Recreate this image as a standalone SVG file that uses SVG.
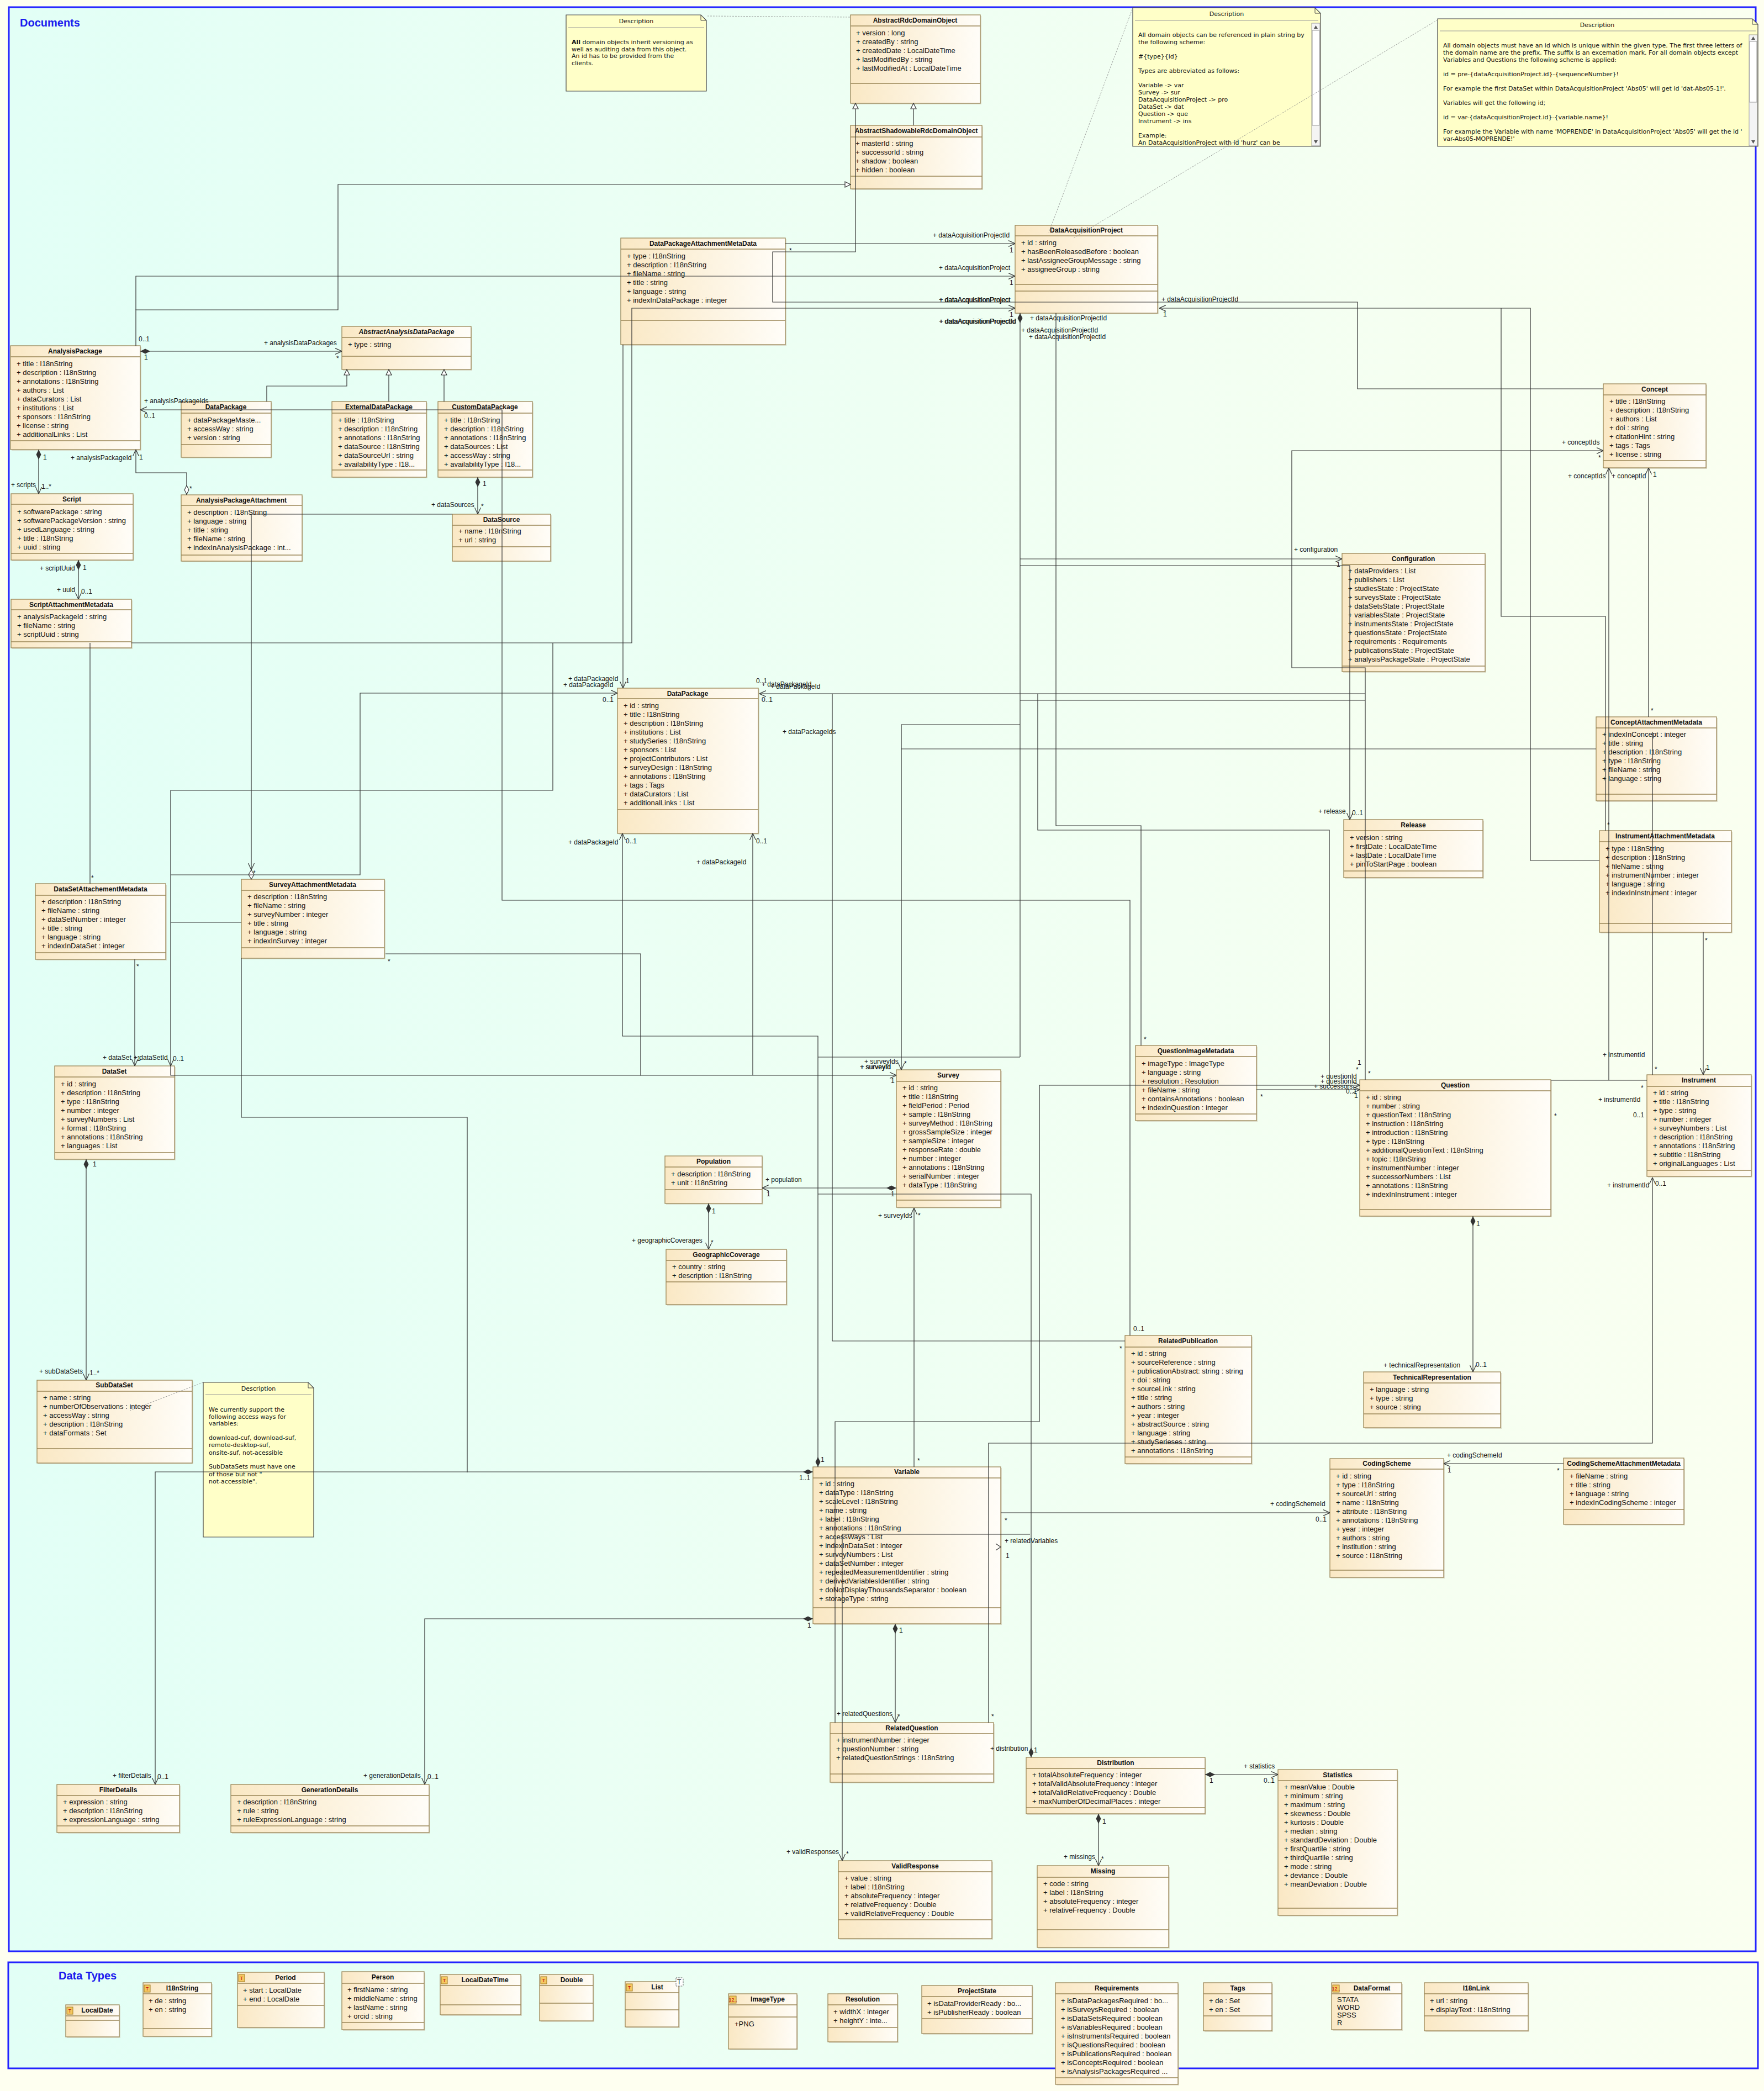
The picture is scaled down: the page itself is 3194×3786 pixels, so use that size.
<svg xmlns="http://www.w3.org/2000/svg" width="3194" height="3786" viewBox="0 0 3194 3786">
<defs>
<linearGradient id="fg" x1="0" y1="0" x2="1" y2="0"><stop offset="0" stop-color="#e2fff6"/><stop offset="1" stop-color="#fafff0"/></linearGradient>
<linearGradient id="ng" x1="0" y1="0" x2="1" y2="0"><stop offset="0" stop-color="#fae8c4"/><stop offset="1" stop-color="#fffdf8"/></linearGradient>
<marker id="ar" viewBox="0 0 12 12" refX="12" refY="6" markerWidth="12" markerHeight="12" orient="auto" markerUnits="userSpaceOnUse"><path d="M0,0.5 L12,6 L0,11.5" fill="none" stroke="#333" stroke-width="1.2"/></marker>
<marker id="gn" viewBox="0 0 12 12" refX="11" refY="6" markerWidth="12" markerHeight="12" orient="auto" markerUnits="userSpaceOnUse"><path d="M1,1 L11,6 L1,11 Z" fill="#fff" stroke="#333" stroke-width="1.2"/></marker>
<marker id="dm" viewBox="0 0 20 10" refX="0" refY="5" markerWidth="20" markerHeight="10" orient="auto" markerUnits="userSpaceOnUse"><path d="M0,5 L9,0.5 L18,5 L9,9.5 Z" fill="#333"/></marker>
<marker id="hd" viewBox="0 0 20 10" refX="0" refY="5" markerWidth="20" markerHeight="10" orient="auto" markerUnits="userSpaceOnUse"><path d="M1,5 L9,1 L17,5 L9,9 Z" fill="#fff" stroke="#333" stroke-width="1.1"/></marker>
</defs>
<style>
.nb{fill:url(#ng);stroke:#9a8656;stroke-width:1.3}
.sh{fill:#cfc7b0;opacity:.6}
.dv{stroke:#9a8656;stroke-width:1.3}
.t{font-family:"Liberation Sans",Arial,sans-serif;font-size:12px;font-weight:bold;text-anchor:middle;fill:#111}
.ti{font-style:italic}
.a{font-family:"Liberation Sans",Arial,sans-serif;font-size:13px;fill:#111}
.l{font-family:"Liberation Sans",Arial,sans-serif;font-size:12px;fill:#111}
.e{fill:none;stroke:#333;stroke-width:1.2}
.an{fill:none;stroke:#888;stroke-width:0.8;stroke-dasharray:3,2}
.note{fill:#ffffc8;stroke:#444;stroke-width:1.2}
.nd{stroke:#999;stroke-width:1}
.nt{font-family:"DejaVu Sans",sans-serif;font-size:11px;fill:#111}
.nh{font-family:"DejaVu Sans",sans-serif;font-size:11px;fill:#111;text-anchor:middle}
.fr{stroke:#2222ff;stroke-width:3;fill:url(#fg)}
.ft{font-family:"Liberation Sans",Arial,sans-serif;font-size:20px;font-weight:bold;fill:#1a1aee}
.ic{fill:#f5c860;stroke:#a07a20;stroke-width:1}
.it{font-family:"Liberation Sans",Arial,sans-serif;font-size:9px;fill:#c00000;text-anchor:middle}
.sb{fill:#f4f4f4;stroke:#888;stroke-width:0.8}
</style>
<rect width="3194" height="3786" fill="#fefff0"/>
<rect class="fr" x="16" y="13" width="3163" height="3520"/>
<text class="ft" x="36" y="48">Documents</text>
<rect class="fr" x="15" y="3553" width="3168" height="192"/>
<text class="ft" x="106" y="3584">Data Types</text>

<g id="notes">
<g id="note1"><path class="note" d="M1025,27 H1269 L1279,37 V165 H1025 Z"/><path d="M1269,27 V37 H1279" fill="none" stroke="#444"/><text class="nh" x="1152" y="42">Description</text><line class="nd" x1="1029" y1="50" x2="1275" y2="50"/>
<text class="nt" x="1035" y="80"><tspan font-weight="bold">All</tspan> domain objects inherit versioning as</text><text class="nt" x="1035" y="93">well as auditing data from this object.</text><text class="nt" x="1035" y="105">An id has to be provided from the</text><text class="nt" x="1035" y="118">clients.</text></g>
<g id="note2"><path class="note" d="M2051,14 H2381 L2391,24 V265 H2051 Z"/><path d="M2381,14 V24 H2391" fill="none" stroke="#444"/><text class="nh" x="2221" y="29">Description</text><line class="nd" x1="2055" y1="37" x2="2387" y2="37"/>
<rect class="sb" x="2375" y="42" width="15" height="222"/><rect x="2376" y="55" width="13" height="172" fill="#fff" stroke="#999"/><path d="M2379,52 L2382.5,46 L2386,52 Z M2379,254 L2382.5,260 L2386,254 Z" fill="#555"/>
<text class="nt" x="2061" y="67">All domain objects can be referenced in plain string by</text><text class="nt" x="2061" y="80">the following scheme:</text><text class="nt" x="2061" y="106">#{type}{id}</text><text class="nt" x="2061" y="132">Types are abbreviated as follows:</text><text class="nt" x="2061" y="158">Variable -&gt; var</text><text class="nt" x="2061" y="171">Survey -&gt; sur</text><text class="nt" x="2061" y="184">DataAcquisitionProject -&gt; pro</text><text class="nt" x="2061" y="197">DataSet -&gt; dat</text><text class="nt" x="2061" y="210">Question -&gt; que</text><text class="nt" x="2061" y="223">Instrument -&gt; ins</text><text class="nt" x="2061" y="249">Example:</text><text class="nt" x="2061" y="262">An DataAcquisitionProject with id 'hurz' can be</text></g>
<g id="note3"><path class="note" d="M2603,34 H3173 L3183,44 V265 H2603 Z"/><path d="M3173,34 V44 H3183" fill="none" stroke="#444"/><text class="nh" x="2892" y="49">Description</text><line class="nd" x1="2607" y1="56" x2="3179" y2="56"/>
<rect class="sb" x="3167" y="63" width="15" height="201"/><rect x="3168" y="75" width="13" height="110" fill="#fff" stroke="#999"/><path d="M3171,72 L3174.5,66 L3178,72 Z M3171,254 L3174.5,260 L3178,254 Z" fill="#555"/>
<text class="nt" x="2613" y="86">All domain objects must have an id which is unique within the given type. The first three letters of</text><text class="nt" x="2613" y="99">the domain name are the prefix. The suffix is an excemation mark. For all domain objects except</text><text class="nt" x="2613" y="112">Variables and Questions the following scheme is applied:</text><text class="nt" x="2613" y="138">id = pre-{dataAcquisitionProject.id}-{sequenceNumber}!</text><text class="nt" x="2613" y="164">For example the first DataSet within DataAcquisitionProject 'Abs05' will get id 'dat-Abs05-1!'.</text><text class="nt" x="2613" y="190">Variables will get the following id;</text><text class="nt" x="2613" y="216">id = var-{dataAcquisitionProject.id}-{variable.name}!</text><text class="nt" x="2613" y="242">For example the Variable with name 'MOPRENDE' in DataAcquisitionProject 'Abs05' will get the id '</text><text class="nt" x="2613" y="255">var-Abs05-MOPRENDE!'</text></g>
<g id="note4"><path class="note" d="M368,2503 H558 L568,2513 V2783 H368 Z"/><path d="M558,2503 V2513 H568" fill="none" stroke="#444"/><text class="nh" x="468" y="2518">Description</text><line class="nd" x1="372" y1="2525" x2="564" y2="2525"/>
<text class="nt" x="378" y="2556">We currently support the</text><text class="nt" x="378" y="2569">following access ways for</text><text class="nt" x="378" y="2581">variables:</text><text class="nt" x="378" y="2607">download-cuf, download-suf,</text><text class="nt" x="378" y="2620">remote-desktop-suf,</text><text class="nt" x="378" y="2634">onsite-suf, not-acessible</text><text class="nt" x="378" y="2659">SubDataSets must have one</text><text class="nt" x="378" y="2673">of those but not "</text><text class="nt" x="378" y="2686">not-accessible".</text></g>
</g>

<g id="nodes">
<g id="AnalysisPackage"><rect class="sh" x="21" y="628" width="235" height="188"/><rect class="nb" x="19" y="626" width="235" height="188"/><text class="t" x="136" y="640">AnalysisPackage</text><line class="dv" x1="19" y1="646" x2="254" y2="646"/><text class="a"><tspan x="30" y="663">+ title : I18nString</tspan><tspan x="30" y="679">+ description : I18nString</tspan><tspan x="30" y="695">+ annotations : I18nString</tspan><tspan x="30" y="711">+ authors : List</tspan><tspan x="30" y="727">+ dataCurators : List</tspan><tspan x="30" y="743">+ institutions : List</tspan><tspan x="30" y="759">+ sponsors : I18nString</tspan><tspan x="30" y="775">+ license : string</tspan><tspan x="30" y="791">+ additionalLinks : List</tspan></text><line class="dv" x1="19" y1="798" x2="254" y2="798"/></g>
<g id="AbstractAnalysisDataPackage"><rect class="sh" x="621" y="593" width="234" height="78"/><rect class="nb" x="619" y="591" width="234" height="78"/><text class="t ti" x="736" y="605">AbstractAnalysisDataPackage</text><line class="dv" x1="619" y1="611" x2="853" y2="611"/><text class="a" x="630" y="628">+ type : string</text><line class="dv" x1="619" y1="645" x2="853" y2="645"/></g>
<g id="DataPackageSmall"><rect class="sh" x="330" y="729" width="163" height="101"/><rect class="nb" x="328" y="727" width="163" height="101"/><text class="t" x="409" y="741">DataPackage</text><line class="dv" x1="328" y1="748" x2="491" y2="748"/><text class="a"><tspan x="339" y="765">+ dataPackageMaste...</tspan><tspan x="339" y="781">+ accessWay : string</tspan><tspan x="339" y="797">+ version : string</tspan></text><line class="dv" x1="328" y1="805" x2="491" y2="805"/></g>
<g id="ExternalDataPackage"><rect class="sh" x="603" y="729" width="171" height="137"/><rect class="nb" x="601" y="727" width="171" height="137"/><text class="t" x="686" y="741">ExternalDataPackage</text><line class="dv" x1="601" y1="748" x2="772" y2="748"/><text class="a"><tspan x="612" y="765">+ title : I18nString</tspan><tspan x="612" y="781">+ description : I18nString</tspan><tspan x="612" y="797">+ annotations : I18nString</tspan><tspan x="612" y="813">+ dataSource : I18nString</tspan><tspan x="612" y="829">+ dataSourceUrl : string</tspan><tspan x="612" y="845">+ availabilityType : I18...</tspan></text><line class="dv" x1="601" y1="851" x2="772" y2="851"/></g>
<g id="CustomDataPackage"><rect class="sh" x="795" y="729" width="171" height="137"/><rect class="nb" x="793" y="727" width="171" height="137"/><text class="t" x="878" y="741">CustomDataPackage</text><line class="dv" x1="793" y1="748" x2="964" y2="748"/><text class="a"><tspan x="804" y="765">+ title : I18nString</tspan><tspan x="804" y="781">+ description : I18nString</tspan><tspan x="804" y="797">+ annotations : I18nString</tspan><tspan x="804" y="813">+ dataSources : List</tspan><tspan x="804" y="829">+ accessWay : string</tspan><tspan x="804" y="845">+ availabilityType : I18...</tspan></text><line class="dv" x1="793" y1="851" x2="964" y2="851"/></g>
<g id="Script"><rect class="sh" x="22" y="896" width="221" height="120"/><rect class="nb" x="20" y="894" width="221" height="120"/><text class="t" x="130" y="908">Script</text><line class="dv" x1="20" y1="913" x2="241" y2="913"/><text class="a"><tspan x="31" y="931">+ softwarePackage : string</tspan><tspan x="31" y="947">+ softwarePackageVersion : string</tspan><tspan x="31" y="963">+ usedLanguage : string</tspan><tspan x="31" y="979">+ title : I18nString</tspan><tspan x="31" y="995">+ uuid : string</tspan></text><line class="dv" x1="20" y1="1002" x2="241" y2="1002"/></g>
<g id="AnalysisPackageAttachment"><rect class="sh" x="330" y="898" width="219" height="120"/><rect class="nb" x="328" y="896" width="219" height="120"/><text class="t" x="437" y="910">AnalysisPackageAttachment</text><line class="dv" x1="328" y1="915" x2="547" y2="915"/><text class="a"><tspan x="339" y="932">+ description : I18nString</tspan><tspan x="339" y="948">+ language : string</tspan><tspan x="339" y="964">+ title : string</tspan><tspan x="339" y="980">+ fileName : string</tspan><tspan x="339" y="996">+ indexInAnalysisPackage : int...</tspan></text><line class="dv" x1="328" y1="1005" x2="547" y2="1005"/></g>
<g id="DataSource"><rect class="sh" x="821" y="933" width="178" height="85"/><rect class="nb" x="819" y="931" width="178" height="85"/><text class="t" x="908" y="945">DataSource</text><line class="dv" x1="819" y1="951" x2="997" y2="951"/><text class="a"><tspan x="830" y="966">+ name : I18nString</tspan><tspan x="830" y="982">+ url : string</tspan></text><line class="dv" x1="819" y1="990" x2="997" y2="990"/></g>
<g id="ScriptAttachmentMetadata"><rect class="sh" x="22" y="1087" width="218" height="88"/><rect class="nb" x="20" y="1085" width="218" height="88"/><text class="t" x="129" y="1099">ScriptAttachmentMetadata</text><line class="dv" x1="20" y1="1104" x2="238" y2="1104"/><text class="a"><tspan x="31" y="1121">+ analysisPackageId : string</tspan><tspan x="31" y="1137">+ fileName : string</tspan><tspan x="31" y="1153">+ scriptUuid : string</tspan></text><line class="dv" x1="20" y1="1162" x2="238" y2="1162"/></g>
<g id="AbstractRdcDomainObject"><rect class="sh" x="1542" y="29" width="235" height="160"/><rect class="nb" x="1540" y="27" width="235" height="160"/><text class="t" x="1657" y="41">AbstractRdcDomainObject</text><line class="dv" x1="1540" y1="47" x2="1775" y2="47"/><text class="a"><tspan x="1550" y="64">+ version : long</tspan><tspan x="1550" y="80">+ createdBy : string</tspan><tspan x="1550" y="96">+ createdDate : LocalDateTime</tspan><tspan x="1550" y="112">+ lastModifiedBy : string</tspan><tspan x="1550" y="128">+ lastModifiedAt : LocalDateTime</tspan></text><line class="dv" x1="1540" y1="151" x2="1775" y2="151"/></g>
<g id="AbstractShadowableRdcDomainObject"><rect class="sh" x="1542" y="229" width="238" height="115"/><rect class="nb" x="1540" y="227" width="238" height="115"/><text class="t" x="1659" y="241">AbstractShadowableRdcDomainObject</text><line class="dv" x1="1540" y1="248" x2="1778" y2="248"/><text class="a"><tspan x="1549" y="264">+ masterId : string</tspan><tspan x="1549" y="280">+ successorId : string</tspan><tspan x="1549" y="296">+ shadow : boolean</tspan><tspan x="1549" y="312">+ hidden : boolean</tspan></text><line class="dv" x1="1540" y1="319" x2="1778" y2="319"/></g>
<g id="DataAcquisitionProject"><rect class="sh" x="1840" y="410" width="258" height="159"/><rect class="nb" x="1838" y="408" width="258" height="159"/><text class="t" x="1967" y="421">DataAcquisitionProject</text><line class="dv" x1="1838" y1="427" x2="2096" y2="427"/><text class="a"><tspan x="1849" y="444">+ id : string</tspan><tspan x="1849" y="460">+ hasBeenReleasedBefore : boolean</tspan><tspan x="1849" y="476">+ lastAssigneeGroupMessage : string</tspan><tspan x="1849" y="492">+ assigneeGroup : string</tspan></text><line class="dv" x1="1838" y1="515" x2="2096" y2="515"/><line class="dv" x1="1838" y1="527" x2="2096" y2="527"/></g>
<g id="DataPackageAttachmentMetaData"><rect class="sh" x="1126" y="433" width="298" height="193"/><rect class="nb" x="1124" y="431" width="298" height="193"/><text class="t" x="1273" y="445">DataPackageAttachmentMetaData</text><line class="dv" x1="1124" y1="451" x2="1422" y2="451"/><text class="a"><tspan x="1135" y="468">+ type : I18nString</tspan><tspan x="1135" y="484">+ description : I18nString</tspan><tspan x="1135" y="500">+ fileName : string</tspan><tspan x="1135" y="516">+ title : string</tspan><tspan x="1135" y="532">+ language : string</tspan><tspan x="1135" y="548">+ indexInDataPackage : integer</tspan></text><line class="dv" x1="1124" y1="580" x2="1422" y2="580"/></g>
<g id="Concept"><rect class="sh" x="2905" y="697" width="186" height="152"/><rect class="nb" x="2903" y="695" width="186" height="152"/><text class="t" x="2996" y="709">Concept</text><line class="dv" x1="2903" y1="715" x2="3089" y2="715"/><text class="a"><tspan x="2914" y="731">+ title : I18nString</tspan><tspan x="2914" y="747">+ description : I18nString</tspan><tspan x="2914" y="763">+ authors : List</tspan><tspan x="2914" y="779">+ doi : string</tspan><tspan x="2914" y="795">+ citationHint : string</tspan><tspan x="2914" y="811">+ tags : Tags</tspan><tspan x="2914" y="827">+ license : string</tspan></text><line class="dv" x1="2903" y1="834" x2="3089" y2="834"/></g>
<g id="Configuration"><rect class="sh" x="2432" y="1004" width="259" height="214"/><rect class="nb" x="2430" y="1002" width="259" height="214"/><text class="t" x="2559" y="1016">Configuration</text><line class="dv" x1="2430" y1="1022" x2="2689" y2="1022"/><text class="a"><tspan x="2441" y="1038">+ dataProviders : List</tspan><tspan x="2441" y="1054">+ publishers : List</tspan><tspan x="2441" y="1070">+ studiesState : ProjectState</tspan><tspan x="2441" y="1086">+ surveysState : ProjectState</tspan><tspan x="2441" y="1102">+ dataSetsState : ProjectState</tspan><tspan x="2441" y="1118">+ variablesState : ProjectState</tspan><tspan x="2441" y="1134">+ instrumentsState : ProjectState</tspan><tspan x="2441" y="1150">+ questionsState : ProjectState</tspan><tspan x="2441" y="1166">+ requirements : Requirements</tspan><tspan x="2441" y="1182">+ publicationsState : ProjectState</tspan><tspan x="2441" y="1198">+ analysisPackageState : ProjectState</tspan></text><line class="dv" x1="2430" y1="1206" x2="2689" y2="1206"/></g>
<g id="Release"><rect class="sh" x="2435" y="1486" width="252" height="105"/><rect class="nb" x="2433" y="1484" width="252" height="105"/><text class="t" x="2559" y="1498">Release</text><line class="dv" x1="2433" y1="1504" x2="2685" y2="1504"/><text class="a"><tspan x="2444" y="1521">+ version : string</tspan><tspan x="2444" y="1537">+ firstDate : LocalDateTime</tspan><tspan x="2444" y="1553">+ lastDate : LocalDateTime</tspan><tspan x="2444" y="1569">+ pinToStartPage : boolean</tspan></text><line class="dv" x1="2433" y1="1577" x2="2685" y2="1577"/></g>
<g id="ConceptAttachmentMetadata"><rect class="sh" x="2892" y="1300" width="218" height="152"/><rect class="nb" x="2890" y="1298" width="218" height="152"/><text class="t" x="2999" y="1312">ConceptAttachmentMetadata</text><line class="dv" x1="2890" y1="1318" x2="3108" y2="1318"/><text class="a"><tspan x="2901" y="1334">+ indexInConcept : integer</tspan><tspan x="2901" y="1350">+ title : string</tspan><tspan x="2901" y="1366">+ description : I18nString</tspan><tspan x="2901" y="1382">+ type : I18nString</tspan><tspan x="2901" y="1398">+ fileName : string</tspan><tspan x="2901" y="1414">+ language : string</tspan></text><line class="dv" x1="2890" y1="1438" x2="3108" y2="1438"/></g>
<g id="InstrumentAttachmentMetadata"><rect class="sh" x="2898" y="1506" width="239" height="184"/><rect class="nb" x="2896" y="1504" width="239" height="184"/><text class="t" x="3015" y="1518">InstrumentAttachmentMetadata</text><line class="dv" x1="2896" y1="1524" x2="3135" y2="1524"/><text class="a"><tspan x="2907" y="1541">+ type : I18nString</tspan><tspan x="2907" y="1557">+ description : I18nString</tspan><tspan x="2907" y="1573">+ fileName : string</tspan><tspan x="2907" y="1589">+ instrumentNumber : integer</tspan><tspan x="2907" y="1605">+ language : string</tspan><tspan x="2907" y="1621">+ indexInInstrument : integer</tspan></text><line class="dv" x1="2896" y1="1672" x2="3135" y2="1672"/></g>
<g id="DataPackage"><rect class="sh" x="1120" y="1248" width="255" height="263"/><rect class="nb" x="1118" y="1246" width="255" height="263"/><text class="t" x="1245" y="1260">DataPackage</text><line class="dv" x1="1118" y1="1265" x2="1373" y2="1265"/><text class="a"><tspan x="1129" y="1282">+ id : string</tspan><tspan x="1129" y="1298">+ title : I18nString</tspan><tspan x="1129" y="1314">+ description : I18nString</tspan><tspan x="1129" y="1330">+ institutions : List</tspan><tspan x="1129" y="1346">+ studySeries : I18nString</tspan><tspan x="1129" y="1362">+ sponsors : List</tspan><tspan x="1129" y="1378">+ projectContributors : List</tspan><tspan x="1129" y="1394">+ surveyDesign : I18nString</tspan><tspan x="1129" y="1410">+ annotations : I18nString</tspan><tspan x="1129" y="1426">+ tags : Tags</tspan><tspan x="1129" y="1442">+ dataCurators : List</tspan><tspan x="1129" y="1458">+ additionalLinks : List</tspan></text><line class="dv" x1="1118" y1="1466" x2="1373" y2="1466"/></g>
<g id="DataSetAttachementMetadata"><rect class="sh" x="66" y="1602" width="236" height="137"/><rect class="nb" x="64" y="1600" width="236" height="137"/><text class="t" x="182" y="1614">DataSetAttachementMetadata</text><line class="dv" x1="64" y1="1621" x2="300" y2="1621"/><text class="a"><tspan x="75" y="1637">+ description : I18nString</tspan><tspan x="75" y="1653">+ fileName : string</tspan><tspan x="75" y="1669">+ dataSetNumber : integer</tspan><tspan x="75" y="1685">+ title : string</tspan><tspan x="75" y="1701">+ language : string</tspan><tspan x="75" y="1717">+ indexInDataSet : integer</tspan></text><line class="dv" x1="64" y1="1725" x2="300" y2="1725"/></g>
<g id="SurveyAttachmentMetadata"><rect class="sh" x="439" y="1594" width="259" height="143"/><rect class="nb" x="437" y="1592" width="259" height="143"/><text class="t" x="566" y="1606">SurveyAttachmentMetadata</text><line class="dv" x1="437" y1="1612" x2="696" y2="1612"/><text class="a"><tspan x="448" y="1628">+ description : I18nString</tspan><tspan x="448" y="1644">+ fileName : string</tspan><tspan x="448" y="1660">+ surveyNumber : integer</tspan><tspan x="448" y="1676">+ title : string</tspan><tspan x="448" y="1692">+ language : string</tspan><tspan x="448" y="1708">+ indexInSurvey : integer</tspan></text><line class="dv" x1="437" y1="1716" x2="696" y2="1716"/></g>
<g id="DataSet"><rect class="sh" x="101" y="1932" width="217" height="169"/><rect class="nb" x="99" y="1930" width="217" height="169"/><text class="t" x="207" y="1944">DataSet</text><line class="dv" x1="99" y1="1950" x2="316" y2="1950"/><text class="a"><tspan x="110" y="1967">+ id : string</tspan><tspan x="110" y="1983">+ description : I18nString</tspan><tspan x="110" y="1999">+ type : I18nString</tspan><tspan x="110" y="2015">+ number : integer</tspan><tspan x="110" y="2031">+ surveyNumbers : List</tspan><tspan x="110" y="2047">+ format : I18nString</tspan><tspan x="110" y="2063">+ annotations : I18nString</tspan><tspan x="110" y="2079">+ languages : List</tspan></text><line class="dv" x1="99" y1="2087" x2="316" y2="2087"/></g>
<g id="QuestionImageMetadata"><rect class="sh" x="2058" y="1895" width="219" height="136"/><rect class="nb" x="2056" y="1893" width="219" height="136"/><text class="t" x="2165" y="1907">QuestionImageMetadata</text><line class="dv" x1="2056" y1="1913" x2="2275" y2="1913"/><text class="a"><tspan x="2067" y="1930">+ imageType : ImageType</tspan><tspan x="2067" y="1946">+ language : string</tspan><tspan x="2067" y="1962">+ resolution : Resolution</tspan><tspan x="2067" y="1978">+ fileName : string</tspan><tspan x="2067" y="1994">+ containsAnnotations : boolean</tspan><tspan x="2067" y="2010">+ indexInQuestion : integer</tspan></text><line class="dv" x1="2056" y1="2017" x2="2275" y2="2017"/></g>
<g id="Survey"><rect class="sh" x="1625" y="1939" width="189" height="249"/><rect class="nb" x="1623" y="1937" width="189" height="249"/><text class="t" x="1717" y="1951">Survey</text><line class="dv" x1="1623" y1="1958" x2="1812" y2="1958"/><text class="a"><tspan x="1634" y="1974">+ id : string</tspan><tspan x="1634" y="1990">+ title : I18nString</tspan><tspan x="1634" y="2006">+ fieldPeriod : Period</tspan><tspan x="1634" y="2022">+ sample : I18nString</tspan><tspan x="1634" y="2038">+ surveyMethod : I18nString</tspan><tspan x="1634" y="2054">+ grossSampleSize : integer</tspan><tspan x="1634" y="2070">+ sampleSize : integer</tspan><tspan x="1634" y="2086">+ responseRate : double</tspan><tspan x="1634" y="2102">+ number : integer</tspan><tspan x="1634" y="2118">+ annotations : I18nString</tspan><tspan x="1634" y="2134">+ serialNumber : integer</tspan><tspan x="1634" y="2150">+ dataType : I18nString</tspan></text><line class="dv" x1="1623" y1="2173" x2="1812" y2="2173"/></g>
<g id="Population"><rect class="sh" x="1206" y="2095" width="176" height="86"/><rect class="nb" x="1204" y="2093" width="176" height="86"/><text class="t" x="1292" y="2107">Population</text><line class="dv" x1="1204" y1="2113" x2="1380" y2="2113"/><text class="a"><tspan x="1215" y="2130">+ description : I18nString</tspan><tspan x="1215" y="2146">+ unit : I18nString</tspan></text><line class="dv" x1="1204" y1="2154" x2="1380" y2="2154"/></g>
<g id="GeographicCoverage"><rect class="sh" x="1208" y="2264" width="218" height="100"/><rect class="nb" x="1206" y="2262" width="218" height="100"/><text class="t" x="1315" y="2276">GeographicCoverage</text><line class="dv" x1="1206" y1="2282" x2="1424" y2="2282"/><text class="a"><tspan x="1217" y="2298">+ country : string</tspan><tspan x="1217" y="2314">+ description : I18nString</tspan></text><line class="dv" x1="1206" y1="2321" x2="1424" y2="2321"/></g>
<g id="Question"><rect class="sh" x="2464" y="1957" width="346" height="247"/><rect class="nb" x="2462" y="1955" width="346" height="247"/><text class="t" x="2635" y="1969">Question</text><line class="dv" x1="2462" y1="1975" x2="2808" y2="1975"/><text class="a"><tspan x="2473" y="1991">+ id : string</tspan><tspan x="2473" y="2007">+ number : string</tspan><tspan x="2473" y="2023">+ questionText : I18nString</tspan><tspan x="2473" y="2039">+ instruction : I18nString</tspan><tspan x="2473" y="2055">+ introduction : I18nString</tspan><tspan x="2473" y="2071">+ type : I18nString</tspan><tspan x="2473" y="2087">+ additionalQuestionText : I18nString</tspan><tspan x="2473" y="2103">+ topic : I18nString</tspan><tspan x="2473" y="2119">+ instrumentNumber : integer</tspan><tspan x="2473" y="2135">+ successorNumbers : List</tspan><tspan x="2473" y="2151">+ annotations : I18nString</tspan><tspan x="2473" y="2167">+ indexInInstrument : integer</tspan></text><line class="dv" x1="2462" y1="2190" x2="2808" y2="2190"/></g>
<g id="Instrument"><rect class="sh" x="2984" y="1948" width="189" height="184"/><rect class="nb" x="2982" y="1946" width="189" height="184"/><text class="t" x="3076" y="1960">Instrument</text><line class="dv" x1="2982" y1="1967" x2="3171" y2="1967"/><text class="a"><tspan x="2993" y="1983">+ id : string</tspan><tspan x="2993" y="1999">+ title : I18nString</tspan><tspan x="2993" y="2015">+ type : string</tspan><tspan x="2993" y="2031">+ number : integer</tspan><tspan x="2993" y="2047">+ surveyNumbers : List</tspan><tspan x="2993" y="2063">+ description : I18nString</tspan><tspan x="2993" y="2079">+ annotations : I18nString</tspan><tspan x="2993" y="2095">+ subtitle : I18nString</tspan><tspan x="2993" y="2111">+ originalLanguages : List</tspan></text><line class="dv" x1="2982" y1="2119" x2="3171" y2="2119"/></g>
<g id="TechnicalRepresentation"><rect class="sh" x="2471" y="2486" width="248" height="101"/><rect class="nb" x="2469" y="2484" width="248" height="101"/><text class="t" x="2593" y="2498">TechnicalRepresentation</text><line class="dv" x1="2469" y1="2504" x2="2717" y2="2504"/><text class="a"><tspan x="2480" y="2520">+ language : string</tspan><tspan x="2480" y="2536">+ type : string</tspan><tspan x="2480" y="2552">+ source : string</tspan></text><line class="dv" x1="2469" y1="2560" x2="2717" y2="2560"/></g>
<g id="CodingScheme"><rect class="sh" x="2410" y="2643" width="206" height="215"/><rect class="nb" x="2408" y="2641" width="206" height="215"/><text class="t" x="2511" y="2654">CodingScheme</text><line class="dv" x1="2408" y1="2660" x2="2614" y2="2660"/><text class="a"><tspan x="2419" y="2677">+ id : string</tspan><tspan x="2419" y="2693">+ type : I18nString</tspan><tspan x="2419" y="2709">+ sourceUrl : string</tspan><tspan x="2419" y="2725">+ name : I18nString</tspan><tspan x="2419" y="2741">+ attribute : I18nString</tspan><tspan x="2419" y="2757">+ annotations : I18nString</tspan><tspan x="2419" y="2773">+ year : integer</tspan><tspan x="2419" y="2789">+ authors : string</tspan><tspan x="2419" y="2805">+ institution : string</tspan><tspan x="2419" y="2821">+ source : I18nString</tspan></text><line class="dv" x1="2408" y1="2843" x2="2614" y2="2843"/></g>
<g id="CodingSchemeAttachmentMetadata"><rect class="sh" x="2833" y="2642" width="218" height="120"/><rect class="nb" x="2831" y="2640" width="218" height="120"/><text class="t" x="2940" y="2654">CodingSchemeAttachmentMetadata</text><line class="dv" x1="2831" y1="2661" x2="3049" y2="2661"/><text class="a"><tspan x="2842" y="2677">+ fileName : string</tspan><tspan x="2842" y="2693">+ title : string</tspan><tspan x="2842" y="2709">+ language : string</tspan><tspan x="2842" y="2725">+ indexInCodingScheme : integer</tspan></text><line class="dv" x1="2831" y1="2733" x2="3049" y2="2733"/></g>
<g id="RelatedPublication"><rect class="sh" x="2039" y="2420" width="229" height="232"/><rect class="nb" x="2037" y="2418" width="229" height="232"/><text class="t" x="2151" y="2432">RelatedPublication</text><line class="dv" x1="2037" y1="2439" x2="2266" y2="2439"/><text class="a"><tspan x="2048" y="2455">+ id : string</tspan><tspan x="2048" y="2471">+ sourceReference : string</tspan><tspan x="2048" y="2487">+ publicationAbstract: string : string</tspan><tspan x="2048" y="2503">+ doi : string</tspan><tspan x="2048" y="2519">+ sourceLink : string</tspan><tspan x="2048" y="2535">+ title : string</tspan><tspan x="2048" y="2551">+ authors : string</tspan><tspan x="2048" y="2567">+ year : integer</tspan><tspan x="2048" y="2583">+ abstractSource : string</tspan><tspan x="2048" y="2599">+ language : string</tspan><tspan x="2048" y="2615">+ studySerieses : string</tspan><tspan x="2048" y="2631">+ annotations : I18nString</tspan></text><line class="dv" x1="2037" y1="2638" x2="2266" y2="2638"/></g>
<g id="SubDataSet"><rect class="sh" x="69" y="2501" width="281" height="150"/><rect class="nb" x="67" y="2499" width="281" height="150"/><text class="t" x="207" y="2512">SubDataSet</text><line class="dv" x1="67" y1="2519" x2="348" y2="2519"/><text class="a"><tspan x="78" y="2535">+ name : string</tspan><tspan x="78" y="2551">+ numberOfObservations : integer</tspan><tspan x="78" y="2567">+ accessWay : string</tspan><tspan x="78" y="2583">+ description : I18nString</tspan><tspan x="78" y="2599">+ dataFormats : Set</tspan></text><line class="dv" x1="67" y1="2623" x2="348" y2="2623"/></g>
<g id="Variable"><rect class="sh" x="1474" y="2658" width="340" height="284"/><rect class="nb" x="1472" y="2656" width="340" height="284"/><text class="t" x="1642" y="2669">Variable</text><line class="dv" x1="1472" y1="2676" x2="1812" y2="2676"/><text class="a"><tspan x="1483" y="2691">+ id : string</tspan><tspan x="1483" y="2707">+ dataType : I18nString</tspan><tspan x="1483" y="2723">+ scaleLevel : I18nString</tspan><tspan x="1483" y="2739">+ name : string</tspan><tspan x="1483" y="2755">+ label : I18nString</tspan><tspan x="1483" y="2771">+ annotations : I18nString</tspan><tspan x="1483" y="2787">+ accessWays : List</tspan><tspan x="1483" y="2803">+ indexInDataSet : integer</tspan><tspan x="1483" y="2819">+ surveyNumbers : List</tspan><tspan x="1483" y="2835">+ dataSetNumber : integer</tspan><tspan x="1483" y="2851">+ repeatedMeasurementIdentifier : string</tspan><tspan x="1483" y="2867">+ derivedVariablesIdentifier : string</tspan><tspan x="1483" y="2883">+ doNotDisplayThousandsSeparator : boolean</tspan><tspan x="1483" y="2899">+ storageType : string</tspan></text><line class="dv" x1="1472" y1="2911" x2="1812" y2="2911"/></g>
<g id="RelatedQuestion"><rect class="sh" x="1505" y="3121" width="296" height="108"/><rect class="nb" x="1503" y="3119" width="296" height="108"/><text class="t" x="1651" y="3133">RelatedQuestion</text><line class="dv" x1="1503" y1="3139" x2="1799" y2="3139"/><text class="a"><tspan x="1514" y="3155">+ instrumentNumber : integer</tspan><tspan x="1514" y="3171">+ questionNumber : string</tspan><tspan x="1514" y="3187">+ relatedQuestionStrings : I18nString</tspan></text><line class="dv" x1="1503" y1="3212" x2="1799" y2="3212"/></g>
<g id="Distribution"><rect class="sh" x="1860" y="3184" width="324" height="102"/><rect class="nb" x="1858" y="3182" width="324" height="102"/><text class="t" x="2020" y="3196">Distribution</text><line class="dv" x1="1858" y1="3202" x2="2182" y2="3202"/><text class="a"><tspan x="1869" y="3218">+ totalAbsoluteFrequency : integer</tspan><tspan x="1869" y="3234">+ totalValidAbsoluteFrequency : integer</tspan><tspan x="1869" y="3250">+ totalValidRelativeFrequency : Double</tspan><tspan x="1869" y="3266">+ maxNumberOfDecimalPlaces : integer</tspan></text><line class="dv" x1="1858" y1="3273" x2="2182" y2="3273"/></g>
<g id="Statistics"><rect class="sh" x="2316" y="3206" width="216" height="264"/><rect class="nb" x="2314" y="3204" width="216" height="264"/><text class="t" x="2422" y="3218">Statistics</text><line class="dv" x1="2314" y1="3224" x2="2530" y2="3224"/><text class="a"><tspan x="2325" y="3240">+ meanValue : Double</tspan><tspan x="2325" y="3256">+ minimum : string</tspan><tspan x="2325" y="3272">+ maximum : string</tspan><tspan x="2325" y="3288">+ skewness : Double</tspan><tspan x="2325" y="3304">+ kurtosis : Double</tspan><tspan x="2325" y="3320">+ median : string</tspan><tspan x="2325" y="3336">+ standardDeviation : Double</tspan><tspan x="2325" y="3352">+ firstQuartile : string</tspan><tspan x="2325" y="3368">+ thirdQuartile : string</tspan><tspan x="2325" y="3384">+ mode : string</tspan><tspan x="2325" y="3400">+ deviance : Double</tspan><tspan x="2325" y="3416">+ meanDeviation : Double</tspan></text><line class="dv" x1="2314" y1="3455" x2="2530" y2="3455"/></g>
<g id="ValidResponse"><rect class="sh" x="1520" y="3371" width="278" height="141"/><rect class="nb" x="1518" y="3369" width="278" height="141"/><text class="t" x="1657" y="3383">ValidResponse</text><line class="dv" x1="1518" y1="3389" x2="1796" y2="3389"/><text class="a"><tspan x="1529" y="3405">+ value : string</tspan><tspan x="1529" y="3421">+ label : I18nString</tspan><tspan x="1529" y="3437">+ absoluteFrequency : integer</tspan><tspan x="1529" y="3453">+ relativeFrequency : Double</tspan><tspan x="1529" y="3469">+ validRelativeFrequency : Double</tspan></text><line class="dv" x1="1518" y1="3476" x2="1796" y2="3476"/></g>
<g id="Missing"><rect class="sh" x="1880" y="3380" width="238" height="148"/><rect class="nb" x="1878" y="3378" width="238" height="148"/><text class="t" x="1997" y="3392">Missing</text><line class="dv" x1="1878" y1="3399" x2="2116" y2="3399"/><text class="a"><tspan x="1889" y="3415">+ code : string</tspan><tspan x="1889" y="3431">+ label : I18nString</tspan><tspan x="1889" y="3447">+ absoluteFrequency : integer</tspan><tspan x="1889" y="3463">+ relativeFrequency : Double</tspan></text><line class="dv" x1="1878" y1="3494" x2="2116" y2="3494"/></g>
<g id="FilterDetails"><rect class="sh" x="105" y="3233" width="222" height="87"/><rect class="nb" x="103" y="3231" width="222" height="87"/><text class="t" x="214" y="3245">FilterDetails</text><line class="dv" x1="103" y1="3251" x2="325" y2="3251"/><text class="a"><tspan x="114" y="3267">+ expression : string</tspan><tspan x="114" y="3283">+ description : I18nString</tspan><tspan x="114" y="3299">+ expressionLanguage : string</tspan></text><line class="dv" x1="103" y1="3306" x2="325" y2="3306"/></g>
<g id="GenerationDetails"><rect class="sh" x="420" y="3233" width="359" height="87"/><rect class="nb" x="418" y="3231" width="359" height="87"/><text class="t" x="597" y="3245">GenerationDetails</text><line class="dv" x1="418" y1="3251" x2="777" y2="3251"/><text class="a"><tspan x="429" y="3267">+ description : I18nString</tspan><tspan x="429" y="3283">+ rule : string</tspan><tspan x="429" y="3299">+ ruleExpressionLanguage : string</tspan></text><line class="dv" x1="418" y1="3306" x2="777" y2="3306"/></g>
</g>

<g id="datatypes">
<g id="LocalDate"><rect class="sh" x="121" y="3632" width="97" height="58"/><rect class="nb" x="119" y="3630" width="97" height="58"/><rect class="ic" x="121" y="3634" width="11" height="13"/><text class="it" x="126.5" y="3644">T</text><text class="t" x="176" y="3644">LocalDate</text><line class="dv" x1="119" y1="3650" x2="216" y2="3650"/><line class="dv" x1="119" y1="3658" x2="216" y2="3658"/></g>
<g id="I18nString"><rect class="sh" x="261" y="3592" width="124" height="97"/><rect class="nb" x="259" y="3590" width="124" height="97"/><rect class="ic" x="261" y="3594" width="11" height="13"/><text class="it" x="266.5" y="3604">T</text><text class="t" x="330" y="3604">I18nString</text><line class="dv" x1="259" y1="3610" x2="383" y2="3610"/><text class="a"><tspan x="269" y="3627">+ de : string</tspan><tspan x="269" y="3643">+ en : string</tspan></text><line class="dv" x1="259" y1="3673" x2="383" y2="3673"/></g>
<g id="Period"><rect class="sh" x="432" y="3573" width="157" height="100"/><rect class="nb" x="430" y="3571" width="157" height="100"/><rect class="ic" x="432" y="3575" width="11" height="13"/><text class="it" x="437.5" y="3585">T</text><text class="t" x="517" y="3585">Period</text><line class="dv" x1="430" y1="3591" x2="587" y2="3591"/><text class="a"><tspan x="440" y="3608">+ start : LocalDate</tspan><tspan x="440" y="3624">+ end : LocalDate</tspan></text><line class="dv" x1="430" y1="3631" x2="587" y2="3631"/></g>
<g id="Person"><rect class="sh" x="621" y="3572" width="149" height="105"/><rect class="nb" x="619" y="3570" width="149" height="105"/><text class="t" x="693" y="3584">Person</text><line class="dv" x1="619" y1="3591" x2="768" y2="3591"/><text class="a"><tspan x="629" y="3607">+ firstName : string</tspan><tspan x="629" y="3623">+ middleName : string</tspan><tspan x="629" y="3639">+ lastName : string</tspan><tspan x="629" y="3655">+ orcid : string</tspan></text><line class="dv" x1="619" y1="3662" x2="768" y2="3662"/></g>
<g id="LocalDateTime"><rect class="sh" x="799" y="3577" width="146" height="73"/><rect class="nb" x="797" y="3575" width="146" height="73"/><rect class="ic" x="799" y="3579" width="11" height="13"/><text class="it" x="804.5" y="3589">T</text><text class="t" x="878" y="3589">LocalDateTime</text><line class="dv" x1="797" y1="3595" x2="943" y2="3595"/><line class="dv" x1="797" y1="3630" x2="943" y2="3630"/></g>
<g id="Double"><rect class="sh" x="979" y="3577" width="97" height="84"/><rect class="nb" x="977" y="3575" width="97" height="84"/><rect class="ic" x="979" y="3579" width="11" height="13"/><text class="it" x="984.5" y="3589">T</text><text class="t" x="1035" y="3589">Double</text><line class="dv" x1="977" y1="3595" x2="1074" y2="3595"/><line class="dv" x1="977" y1="3627" x2="1074" y2="3627"/></g>
<g id="List"><rect class="sh" x="1134" y="3590" width="97" height="82"/><rect class="nb" x="1132" y="3588" width="97" height="82"/><rect class="ic" x="1134" y="3592" width="11" height="13"/><text class="it" x="1139.5" y="3602">T</text><text class="t" x="1190" y="3602">List</text><line class="dv" x1="1132" y1="3608" x2="1229" y2="3608"/><line class="dv" x1="1132" y1="3639" x2="1229" y2="3639"/><rect x="1224" y="3581" width="13" height="15" fill="#fff" stroke="#666" stroke-dasharray="2,1"/><text class="l" x="1226" y="3593" font-size="11">T</text></g>
<g id="ImageType"><rect class="sh" x="1321" y="3612" width="124" height="100"/><rect class="nb" x="1319" y="3610" width="124" height="100"/><rect class="ic" x="1321" y="3614" width="12" height="13"/><text class="it" x="1327" y="3624" font-size="7">12..</text><text class="t" x="1390" y="3624">ImageType</text><line class="dv" x1="1319" y1="3630" x2="1443" y2="3630"/><line class="dv" x1="1319" y1="3652" x2="1443" y2="3652"/><text class="a" x="1330" y="3669">+PNG</text></g>
<g id="Resolution"><rect class="sh" x="1501" y="3612" width="126" height="87"/><rect class="nb" x="1499" y="3610" width="126" height="87"/><text class="t" x="1562" y="3624">Resolution</text><line class="dv" x1="1499" y1="3630" x2="1625" y2="3630"/><text class="a"><tspan x="1509" y="3647">+ widthX : integer</tspan><tspan x="1509" y="3663">+ heightY : inte...</tspan></text><line class="dv" x1="1499" y1="3671" x2="1625" y2="3671"/></g>
<g id="ProjectState"><rect class="sh" x="1671" y="3597" width="200" height="87"/><rect class="nb" x="1669" y="3595" width="200" height="87"/><text class="t" x="1769" y="3609">ProjectState</text><line class="dv" x1="1669" y1="3615" x2="1869" y2="3615"/><text class="a"><tspan x="1679" y="3632">+ isDataProviderReady : bo...</tspan><tspan x="1679" y="3648">+ isPublisherReady : boolean</tspan></text><line class="dv" x1="1669" y1="3655" x2="1869" y2="3655"/></g>
<g id="Requirements"><rect class="sh" x="1913" y="3592" width="222" height="184"/><rect class="nb" x="1911" y="3590" width="222" height="184"/><text class="t" x="2022" y="3604">Requirements</text><line class="dv" x1="1911" y1="3610" x2="2133" y2="3610"/><text class="a"><tspan x="1921" y="3627">+ isDataPackagesRequired : bo...</tspan><tspan x="1921" y="3643">+ isSurveysRequired : boolean</tspan><tspan x="1921" y="3659">+ isDataSetsRequired : boolean</tspan><tspan x="1921" y="3675">+ isVariablesRequired : boolean</tspan><tspan x="1921" y="3691">+ isInstrumentsRequired : boolean</tspan><tspan x="1921" y="3707">+ isQuestionsRequired : boolean</tspan><tspan x="1921" y="3723">+ isPublicationsRequired : boolean</tspan><tspan x="1921" y="3739">+ isConceptsRequired : boolean</tspan><tspan x="1921" y="3755">+ isAnalysisPackagesRequired ...</tspan></text><line class="dv" x1="1911" y1="3762" x2="2133" y2="3762"/></g>
<g id="Tags"><rect class="sh" x="2181" y="3592" width="124" height="87"/><rect class="nb" x="2179" y="3590" width="124" height="87"/><text class="t" x="2241" y="3604">Tags</text><line class="dv" x1="2179" y1="3610" x2="2303" y2="3610"/><text class="a"><tspan x="2189" y="3627">+ de : Set</tspan><tspan x="2189" y="3643">+ en : Set</tspan></text><line class="dv" x1="2179" y1="3650" x2="2303" y2="3650"/></g>
<g id="DataFormat"><rect class="sh" x="2413" y="3592" width="127" height="85"/><rect class="nb" x="2411" y="3590" width="127" height="85"/><rect class="ic" x="2413" y="3594" width="12" height="13"/><text class="it" x="2419" y="3604" font-size="7">12..</text><text class="t" x="2484" y="3604">DataFormat</text><line class="dv" x1="2411" y1="3610" x2="2538" y2="3610"/><text class="a"><tspan x="2421" y="3625">STATA</tspan><tspan x="2421" y="3639">WORD</tspan><tspan x="2421" y="3653">SPSS</tspan><tspan x="2421" y="3667">R</tspan></text></g>
<g id="I18nLink"><rect class="sh" x="2581" y="3592" width="188" height="87"/><rect class="nb" x="2579" y="3590" width="188" height="87"/><text class="t" x="2673" y="3604">I18nLink</text><line class="dv" x1="2579" y1="3610" x2="2767" y2="3610"/><text class="a"><tspan x="2589" y="3627">+ url : string</tspan><tspan x="2589" y="3643">+ displayText : I18nString</tspan></text><line class="dv" x1="2579" y1="3650" x2="2767" y2="3650"/></g>
</g>

<g id="connectors">
<path class="an" d="M1281,29 L1540,31 M2050,17 L1899,421 M2603,36 L1944,431 M368,2503 L235,2554"/>
<path class="e" d="M246,626 V561 H612 V334 H1540" marker-end="url(#gn)"/>
<path class="e" d="M246,561 V500 H1838" marker-end="url(#ar)"/>
<path class="e" d="M254,636 H619" marker-start="url(#dm)" marker-end="url(#ar)"/>
<path class="e" d="M483,727 V699 H628 V669" marker-end="url(#gn)"/>
<path class="e" d="M704,727 V669" marker-end="url(#gn)"/>
<path class="e" d="M804,727 V669" marker-end="url(#gn)"/>
<path class="e" d="M2046,2418 V1630 H909 V742 H254" marker-end="url(#ar)"/>
<path class="e" d="M70,814 V894" marker-start="url(#dm)" marker-end="url(#ar)"/>
<path class="e" d="M338,896 V856 H246 V814" marker-start="url(#hd)" marker-end="url(#ar)"/>
<path class="e" d="M142,1014 V1085" marker-start="url(#dm)" marker-end="url(#ar)"/>
<path class="e" d="M865,864 V931" marker-start="url(#dm)" marker-end="url(#ar)"/>
<path class="e" d="M819,931 H455 V1575" marker-end="url(#ar)"/>
<path d="M455,1575 L460,1583.5 L455,1592 L450,1583.5 Z" fill="#fff" stroke="#333" stroke-width="1.1"/>
<path class="e" d="M1422,441 H1838" marker-end="url(#ar)"/>
<path class="e" d="M1128,624 V1246" marker-end="url(#ar)"/>
<path class="e" d="M238,1164 H1144 V558 H1838" marker-end="url(#ar)"/>
<path class="e" d="M309,1584 V1431 H1001 V1164"/>
<path class="e" d="M2903,704 H2458 V547 H1399 V456 H1549 V187" marker-end="url(#gn)"/>
<path class="e" d="M1654,227 V187" marker-end="url(#gn)"/>
<path class="e" d="M2896,1558 H2771 V558 H2099" marker-end="url(#ar)"/>
<path class="e" d="M2907,1504 V1116 H2718 V558"/>
<path class="e" d="M1847,567 V1914" marker-start="url(#dm)"/>
<path class="e" d="M1847,1012 H2430" marker-end="url(#ar)"/>
<path class="e" d="M1847,1024 H2444 V1484" marker-end="url(#ar)"/>
<path class="e" d="M2066,1893 V1495 H1912 V567"/>
<path class="e" d="M2472,1955 V1209 H2339 V816 H2903" marker-end="url(#ar)"/>
<path class="e" d="M2472,1256 H1375" marker-end="url(#ar)"/>
<path class="e" d="M1879,1256 V1503 H2407 V1965 H2462" marker-end="url(#ar)"/>
<path class="e" d="M1847,1268 H2472"/>
<path class="e" d="M1847,1312 H1632 V1937" marker-end="url(#ar)"/>
<path class="e" d="M2890,1356 H1632"/>
<path class="e" d="M2037,2428 H1507 V1256"/>
<path class="e" d="M1481,2656 V1876 H1127 V1509" marker-start="url(#dm)" marker-end="url(#ar)"/>
<path class="e" d="M698,1727 H1160 V1947 H1623" marker-end="url(#ar)"/>
<path class="e" d="M309,1930 V1947 H1160"/>
<path class="e" d="M1481,1914 H1847"/>
<path class="e" d="M1867,3182 V2162 H1481" marker-start="url(#dm)"/>
<path class="e" d="M1623,2151 H1380" marker-start="url(#dm)" marker-end="url(#ar)"/>
<path class="e" d="M1283,2179 V2262" marker-start="url(#dm)" marker-end="url(#ar)"/>
<path class="e" d="M1655,2656 V2187" marker-end="url(#ar)"/>
<path class="e" d="M2275,1973 H2462" marker-end="url(#ar)"/>
<path class="e" d="M1512,3119 V2574 H1882 V1965 H2407"/>
<path class="e" d="M1790,3119 V2613 H2992 V2132" marker-end="url(#ar)"/>
<path class="e" d="M1812,2739 H2408" marker-end="url(#ar)"/>
<path class="e" d="M1865,2778 H1525 V3369" marker-end="url(#ar)"/>
<path class="e" d="M2182,3213 H2314" marker-start="url(#dm)" marker-end="url(#ar)"/>
<path class="e" d="M1989,3284 V3378" marker-start="url(#dm)" marker-end="url(#ar)"/>
<path class="e" d="M1621,2940 V3119" marker-start="url(#dm)" marker-end="url(#ar)"/>
<path class="e" d="M1472,2665 H281 V3231" marker-start="url(#dm)" marker-end="url(#ar)"/>
<path class="e" d="M846,2666 V2023 H437 V1735"/>
<path class="e" d="M1472,2931 H769 V3231" marker-start="url(#dm)" marker-end="url(#ar)"/>
<path class="e" d="M156,2099 V2499" marker-start="url(#dm)" marker-end="url(#ar)"/>
<path class="e" d="M244,1737 V1930" marker-end="url(#ar)"/>
<path class="e" d="M309,1584 H652 V1255 H1118" marker-end="url(#ar)"/>
<path class="e" d="M309,1584 V1930" marker-end="url(#ar)"/>
<path class="e" d="M309,1670 H437"/>
<path class="e" d="M163,1600 V1164"/>
<path class="e" d="M1363,1947 V1509" marker-end="url(#ar)"/>
<path class="e" d="M2808,1956 H2982"/>
<path class="e" d="M2913,1956 V847" marker-end="url(#ar)"/>
<path class="e" d="M2985,1298 V847" marker-end="url(#ar)"/>
<path class="e" d="M2992,1325 V1946"/>
<path class="e" d="M3084,1688 V1946" marker-end="url(#ar)"/>
<path class="e" d="M2667,2202 V2484" marker-start="url(#dm)" marker-end="url(#ar)"/>
<path class="e" d="M2831,2650 H2614" marker-end="url(#ar)"/>
<path class="e" d="M1803,2795 L1812,2801 L1803,2807"/>
</g>

<g id="labels" class="l">
<text x="251" y="618">0..1</text><text x="261" y="651">1</text><text x="478" y="625">+ analysisDataPackages</text><text x="609" y="653">*</text>
<text x="261" y="730">+ analysisPackageIds</text><text x="261" y="757">0..1</text>
<text x="78" y="832">1</text><text x="20" y="882">+ scripts</text><text x="75" y="885">1..*</text>
<text x="128" y="833">+ analysisPackageId</text><text x="252" y="832">1</text><text x="343" y="889">*</text>
<text x="72" y="1033">+ scriptUuid</text><text x="150" y="1032">1</text><text x="103" y="1072">+ uuid</text><text x="147" y="1075">0..1</text>
<text x="874" y="880">1</text><text x="781" y="918">+ dataSources</text><text x="871" y="921">*</text>
<text x="1689" y="430">+ dataAcquisitionProjectId</text><text x="1828" y="457">1</text><text x="1429" y="458">*</text>
<text x="1700" y="489">+ dataAcquisitionProject</text><text x="1828" y="516">1</text>
<text x="1700" y="547">+ dataAcquisitionProject</text><text x="1700.6" y="547">+ dataAcquisitionProject</text><text x="1828" y="574">1</text>
<text x="1700" y="586">+ dataAcquisitionProjectId</text><text x="1701" y="586">+ dataAcquisitionProjectId</text><text x="1865" y="580">+ dataAcquisitionProjectId</text><text x="1849" y="602">+ dataAcquisitionProjectId</text><text x="1863" y="614">+ dataAcquisitionProjectId</text>
<text x="2103" y="546">+ dataAcquisitionProjectId</text><text x="2106" y="573">1</text>
<text x="2828" y="805">+ conceptIds</text><text x="2894" y="833">*</text><text x="2839" y="866">+ conceptIds</text><text x="2918" y="866">+ conceptId</text><text x="2993" y="863">1</text>
<text x="2343" y="999">+ configuration</text><text x="2420" y="1026">1</text>
<text x="2387" y="1473">+ release</text><text x="2448" y="1476">0..1</text>
<text x="2989" y="1291">*</text><text x="2910" y="1498">*</text><text x="3087" y="1707">*</text>
<text x="1029" y="1233">+ dataPackageId</text><text x="1133" y="1237">1</text><text x="1020" y="1244">+ dataPackageId</text><text x="1091" y="1271">0..1</text>
<text x="1369" y="1237">0..1</text><text x="1379" y="1243">+ dataPackageId</text><text x="1395" y="1247">+ dataPackageId</text><text x="1379" y="1271">0..1</text>
<text x="1417" y="1329">+ dataPackageIds</text>
<text x="1029" y="1529">+ dataPackageId</text><text x="1133" y="1527">0..1</text><text x="1369" y="1527">0..1</text><text x="1261" y="1565">+ dataPackageId</text>
<text x="165" y="1594">*</text><text x="458" y="1585">*</text><text x="247" y="1754">*</text><text x="702" y="1745">*</text>
<text x="186" y="1919">+ dataSet</text><text x="248" y="1921">1</text><text x="242" y="1919">+ dataSetId</text><text x="313" y="1921">0..1</text>
<text x="168" y="2112">1</text>
<text x="1565" y="1926">+ surveyIds</text><text x="1637" y="1930">*</text><text x="1557" y="1936">+ surveyId</text><text x="1557.6" y="1936">+ surveyId</text><text x="1613" y="1961">1</text>
<text x="1386" y="2140">+ population</text><text x="1388" y="2166">1</text><text x="1613" y="2166">1</text>
<text x="1289" y="2197">1</text><text x="1144" y="2250">+ geographicCoverages</text><text x="1287" y="2254">*</text>
<text x="1590" y="2205">+ surveyIds</text><text x="1662" y="2205">*</text>
<text x="2071" y="1886">*</text><text x="2282" y="1990">*</text>
<text x="2052" y="2410">0..1</text><text x="2027" y="2446">*</text>
<text x="2458" y="1928">1</text><text x="2455" y="1941">*</text><text x="2477" y="1948">*</text>
<text x="2391" y="1953">+ questionId</text><text x="2391" y="1962">+ questionId</text><text x="2379" y="1971">+ successors</text><text x="2437" y="1980">0..1</text><text x="2452" y="1988">1</text>
<text x="2814" y="2025">*</text><text x="2894" y="1995">+ instrumentId</text><text x="2957" y="2023">0..1</text><text x="2971" y="1974">*</text>
<text x="2902" y="1914">+ instrumentId</text><text x="3089" y="1937">1</text><text x="2996" y="1940">*</text>
<text x="2673" y="2220">1</text><text x="2505" y="2476">+ technicalRepresentation</text><text x="2672" y="2475">0..1</text>
<text x="2910" y="2150">+ instrumentId</text><text x="2997" y="2147">0..1</text>
<text x="2620" y="2639">+ codingSchemeId</text><text x="2621" y="2666">1</text><text x="2819" y="2667">*</text>
<text x="1486" y="2647">1</text><text x="1447" y="2680">1..1</text><text x="1661" y="2649">*</text>
<text x="1819" y="2757">*</text><text x="2300" y="2727">+ codingSchemeId</text><text x="2382" y="2755">0..1</text>
<text x="1819" y="2794">+ relatedVariables</text><text x="1821" y="2821">1</text>
<text x="1462" y="2947">1</text><text x="1628" y="2956">1</text>
<text x="1515" y="3107">+ relatedQuestions</text><text x="1625" y="3112">*</text><text x="1795" y="3112">*</text>
<text x="1793" y="3170">+ distribution</text><text x="1872" y="3173">1</text>
<text x="2252" y="3202">+ statistics</text><text x="2190" y="3228">1</text><text x="2288" y="3228">0..1</text>
<text x="1996" y="3302">1</text><text x="1926" y="3366">+ missings</text><text x="1994" y="3370">*</text>
<text x="1424" y="3357">+ validResponses</text><text x="1532" y="3361">*</text>
<text x="71" y="2487">+ subDataSets</text><text x="162" y="2490">1..*</text>
<text x="204" y="3219">+ filterDetails</text><text x="285" y="3221">0..1</text>
<text x="658" y="3219">+ generationDetails</text><text x="774" y="3221">0..1</text>
</g>
</svg>
